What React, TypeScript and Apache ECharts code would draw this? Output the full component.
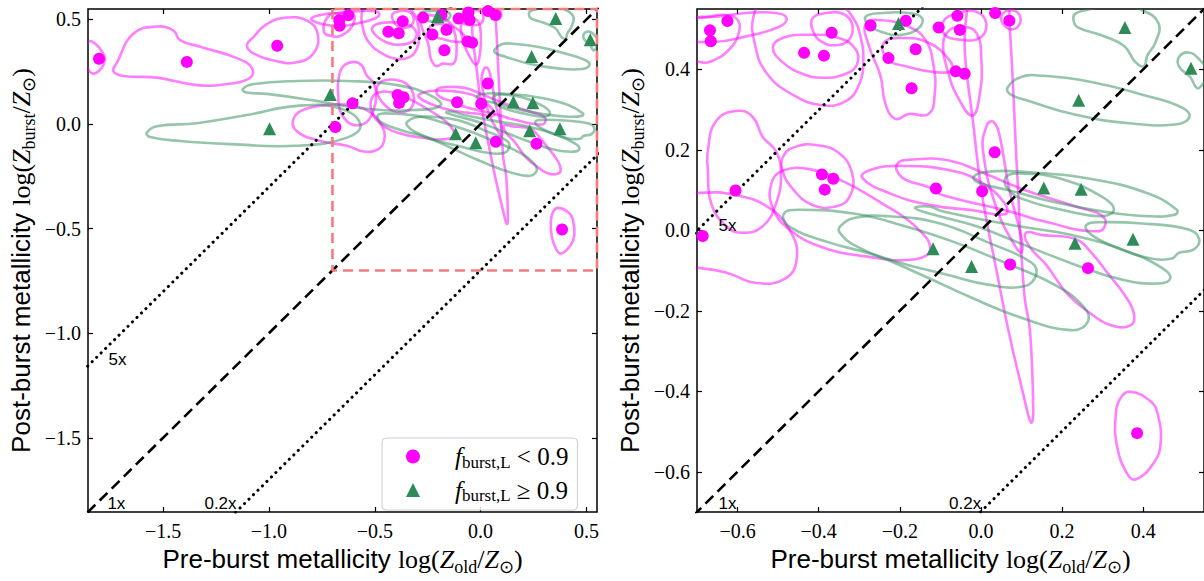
import React, { useEffect, useRef } from "react";
import * as echarts from "echarts";

// ---------- data ----------
// f_burst,L < 0.9 (magenta circles)
const lowX = [-1.803, -1.388, -0.961, -0.625, -0.668, -0.666, -0.368, -0.436, -0.387, -0.272, -0.185, -0.228, -0.161, -0.171, -0.104, -0.058, -0.052, 0.035, 0.07, -0.062, -0.04, 0.034, -0.392, -0.364, -0.385, -0.605, -0.111, 0.003, -0.686, 0.072, 0.264, 0.385];
const lowY = [0.312, 0.297, 0.374, 0.52, 0.497, 0.47, 0.491, 0.441, 0.434, 0.509, 0.521, 0.428, 0.45, 0.353, 0.504, 0.533, 0.498, 0.54, 0.521, 0.395, 0.389, 0.194, 0.139, 0.128, 0.101, 0.099, 0.104, 0.097, -0.014, -0.085, -0.094, -0.504];
// f_burst,L >= 0.9 (green triangles)
const highX = [-0.997, -0.71, -0.203, 0.355, 0.518, 0.241, 0.155, 0.247, -0.118, -0.023, 0.232, 0.375];
const highY = [-0.023, 0.141, 0.514, 0.504, 0.403, 0.323, 0.105, 0.102, -0.046, -0.09, -0.032, -0.022];

// contours (data coordinates), only drawn in the full panel
const cA = [[-1.854, 0.393], [-1.822, 0.385], [-1.783, 0.338], [-1.775, 0.307], [-1.79, 0.269], [-1.822, 0.242], [-1.849, 0.253], [-1.87, 0.315]];
const cB = [[-1.735, 0.253], [-1.719, 0.292], [-1.641, 0.432], [-1.53, 0.466], [-1.451, 0.447], [-1.42, 0.401], [-1.325, 0.37], [-1.152, 0.315], [-1.081, 0.269], [-1.088, 0.222], [-1.199, 0.191], [-1.341, 0.186], [-1.53, 0.222], [-1.688, 0.23]];
const cC = [[-1.073, 0.416], [-1.01, 0.478], [-0.915, 0.509], [-0.82, 0.494], [-0.77, 0.432], [-0.789, 0.338], [-0.868, 0.295], [-0.962, 0.3], [-1.073, 0.338], [-1.104, 0.377]];
const cD = [[-1.577, -0.042], [-1.53, -0.011], [-1.341, 0.004], [-1.104, 0.043], [-0.868, 0.087], [-0.663, 0.074], [-0.568, -0.003], [-0.631, -0.065], [-0.868, -0.104], [-1.183, -0.096], [-1.42, -0.081], [-1.562, -0.062]];
const cE = [[-1.123, 0.168], [-1.073, 0.191], [-0.868, 0.206], [-0.631, 0.206], [-0.394, 0.186], [-0.237, 0.137], [-0.189, 0.09], [-0.315, 0.067], [-0.552, 0.074], [-0.789, 0.113], [-1.01, 0.144], [-1.112, 0.152]];

// contours drawn in both panels
const m1a = [[-0.8, 0.505], [-0.72, 0.528], [-0.652, 0.531], [-0.579, 0.54], [-0.505, 0.54], [-0.479, 0.527], [-0.497, 0.506], [-0.579, 0.482], [-0.66, 0.468], [-0.75, 0.478]];
const m1b = [[-0.74, 0.44], [-0.69, 0.418], [-0.66, 0.422], [-0.62, 0.45], [-0.597, 0.49], [-0.599, 0.522], [-0.628, 0.535], [-0.669, 0.531], [-0.72, 0.515]];
const m2a = [[-0.561, 0.531], [-0.558, 0.466], [-0.53, 0.393], [-0.464, 0.337], [-0.391, 0.311], [-0.333, 0.321], [-0.301, 0.361], [-0.29, 0.418], [-0.297, 0.482], [-0.317, 0.531], [-0.35, 0.56], [-0.456, 0.571], [-0.538, 0.563]];
const m2b = [[-0.513, 0.454], [-0.489, 0.478], [-0.423, 0.486], [-0.35, 0.478], [-0.309, 0.45], [-0.305, 0.414], [-0.333, 0.389], [-0.391, 0.379], [-0.44, 0.389], [-0.489, 0.418]];
const m2c = [[-0.415, 0.527], [-0.382, 0.54], [-0.338, 0.537], [-0.317, 0.51], [-0.325, 0.474], [-0.358, 0.46], [-0.395, 0.47], [-0.415, 0.498]];
const m3a = [[-0.284, 0.514], [-0.276, 0.458], [-0.248, 0.385], [-0.235, 0.313], [-0.211, 0.277], [-0.178, 0.289], [-0.129, 0.289], [-0.114, 0.337], [-0.117, 0.41], [-0.137, 0.474], [-0.178, 0.506], [-0.244, 0.522]];
const m3b = [[-0.239, 0.466], [-0.194, 0.478], [-0.129, 0.466], [-0.08, 0.426], [-0.072, 0.398], [-0.113, 0.393], [-0.178, 0.406], [-0.231, 0.426]];
const m5a = [[-0.093, 0.466], [-0.081, 0.393], [-0.056, 0.329], [-0.021, 0.285], [-0.003, 0.337], [0.001, 0.426], [-0.011, 0.49], [-0.044, 0.506], [-0.077, 0.498]];
const m5b = [[-0.028, 0.58], [-0.015, 0.23], [0.05, -0.16], [0.112, -0.44], [0.124, -0.478], [0.129, -0.45], [0.121, -0.25], [0.107, -0.16], [0.09, 0.13], [0.07, 0.52], [0.06, 0.58]];
const m5c = [[0.015, 0.262], [0.03, 0.27], [0.045, 0.24], [0.07, 0.1], [0.1, -0.02], [0.1, -0.055], [0.085, -0.04], [0.04, 0.05], [0.005, 0.2]];
const m6 = [[-0.599, 0.297], [-0.652, 0.273], [-0.673, 0.2], [-0.673, 0.148], [-0.665, 0.067], [-0.628, 0.01], [-0.587, -0.006], [-0.538, 0.01], [-0.505, 0.067], [-0.493, 0.139], [-0.505, 0.196], [-0.538, 0.232], [-0.562, 0.281]];
const m7 = [[-0.883, 0.028], [-0.82, 0.074], [-0.694, 0.093], [-0.603, 0.087], [-0.521, 0.055], [-0.468, -0.006], [-0.454, -0.07], [-0.481, -0.119], [-0.554, -0.131], [-0.631, -0.104], [-0.757, -0.081], [-0.868, -0.034]];
const m8 = [[-0.485, 0.188], [-0.456, 0.208], [-0.407, 0.212], [-0.35, 0.192], [-0.317, 0.139], [-0.324, 0.083], [-0.358, 0.059], [-0.415, 0.063], [-0.464, 0.103], [-0.49, 0.152]];
const m9 = [[-0.517, 0.115], [-0.489, 0.148], [-0.423, 0.152], [-0.342, 0.123], [-0.244, 0.067], [-0.162, 0.01], [-0.125, -0.046], [-0.162, -0.072], [-0.276, -0.066], [-0.391, -0.042], [-0.472, 0.002], [-0.513, 0.055]];
const m10a = [[-0.293, 0.131], [-0.268, 0.152], [-0.194, 0.16], [-0.08, 0.15], [0.0, 0.12], [0.06, 0.065], [0.06, 0.04], [-0.02, 0.05], [-0.12, 0.062], [-0.22, 0.09]];
const m10b = [[-0.207, 0.164], [-0.17, 0.176], [-0.076, 0.173], [0.005, 0.143], [0.111, 0.099], [0.234, 0.059], [0.304, 0.031], [0.291, -0.002], [0.152, 0.023], [0.071, 0.047], [-0.093, 0.087], [-0.129, 0.107], [-0.194, 0.131]];
const m12 = [[0.111, -0.006], [0.152, -0.012], [0.234, -0.022], [0.271, -0.054], [0.316, -0.111], [0.353, -0.159], [0.377, -0.207], [0.369, -0.236], [0.32, -0.236], [0.271, -0.207], [0.214, -0.159], [0.161, -0.086], [0.118, -0.038]];
const m13 = [[0.369, -0.401], [0.418, -0.425], [0.436, -0.457], [0.443, -0.53], [0.426, -0.578], [0.381, -0.619], [0.359, -0.602], [0.336, -0.538], [0.332, -0.465], [0.344, -0.417]];
const m14 = [[-0.093, 0.518], [-0.06, 0.539], [-0.011, 0.543], [0.013, 0.514], [-0.003, 0.478], [-0.052, 0.474], [-0.089, 0.486]];
const m15 = [[0.05, 0.531], [0.071, 0.547], [0.095, 0.535], [0.091, 0.506], [0.066, 0.502]];

const g1 = [[-0.284, 0.531], [-0.244, 0.54], [-0.178, 0.54], [-0.145, 0.527], [-0.154, 0.502], [-0.194, 0.486], [-0.235, 0.49], [-0.276, 0.51]];
const g2 = [[0.234, 0.539], [0.275, 0.551], [0.33, 0.565], [0.398, 0.547], [0.438, 0.514], [0.43, 0.466], [0.41, 0.434], [0.402, 0.408], [0.381, 0.418], [0.353, 0.458], [0.299, 0.484], [0.238, 0.505], [0.228, 0.524]];
const g3 = [[0.488, 0.43], [0.512, 0.442], [0.537, 0.426], [0.56, 0.39], [0.545, 0.361], [0.533, 0.353], [0.516, 0.381], [0.489, 0.406]];
const g4 = [[0.066, 0.355], [0.099, 0.381], [0.152, 0.384], [0.275, 0.368], [0.398, 0.337], [0.496, 0.305], [0.514, 0.281], [0.479, 0.263], [0.365, 0.266], [0.234, 0.287], [0.12, 0.321], [0.071, 0.339]];
const g5a = [[-0.018, 0.133], [0.013, 0.145], [0.111, 0.145], [0.275, 0.127], [0.414, 0.091], [0.483, 0.051], [0.479, 0.039], [0.414, 0.035], [0.3, 0.047], [0.177, 0.071], [0.071, 0.099], [-0.007, 0.119]];
const g5b = [[0.062, 0.133], [0.103, 0.141], [0.201, 0.127], [0.299, 0.083], [0.328, 0.052], [0.299, 0.035], [0.218, 0.047], [0.111, 0.075], [0.066, 0.103]];
const g6 = [[0.259, 0.012], [0.291, 0.02], [0.398, 0.017], [0.512, 0.002], [0.538, -0.022], [0.524, -0.048], [0.488, -0.056], [0.471, -0.07], [0.414, -0.069], [0.332, -0.042], [0.271, -0.01]];
const g7 = [[-0.162, 0.055], [-0.129, 0.059], [-0.093, 0.047], [0.071, 0.014], [0.234, -0.014], [0.365, -0.054], [0.447, -0.094], [0.467, -0.119], [0.438, -0.132], [0.349, -0.123], [0.234, -0.086], [0.111, -0.038], [-0.011, 0.01], [-0.12, 0.04]];
const g8 = [[-0.347, 0.01], [-0.31, 0.031], [-0.228, 0.035], [-0.105, 0.018], [0.017, -0.03], [0.124, -0.08], [0.136, -0.111], [0.107, -0.139], [0.017, -0.135], [-0.081, -0.111], [-0.212, -0.077], [-0.31, -0.038], [-0.347, -0.007]];
const g9 = [[-0.486, 0.041], [-0.449, 0.051], [-0.31, 0.041], [-0.187, 0.01], [-0.064, -0.03], [0.058, -0.08], [0.181, -0.135], [0.254, -0.191], [0.263, -0.228], [0.222, -0.248], [0.099, -0.217], [-0.024, -0.167], [-0.146, -0.111], [-0.261, -0.062], [-0.375, -0.03], [-0.473, 0.01]];

const fullOnlyMagenta = [cA, cB, cC];
const fullOnlyGreen = [cD, cE];
const magentaContours = [m1a, m1b, m2a, m2b, m2c, m3a, m3b, m5a, m5b, m5c, m6, m7, m8, m9, m10a, m10b, m12, m13, m14, m15];
const greenContours = [g1, g2, g3, g4, g5a, g5b, g6, g7, g8, g9];

// axes
const fullRange = [-1.855, 0.55];
const zoomRange = [-0.7, 0.55];
const fullTicks = [-1.5, -1.0, -0.5, 0.0, 0.5];
const zoomTicks = [-0.6, -0.4, -0.2, 0.0, 0.2, 0.4];

// guide lines: Z_burst = factor * Z_old
const ratioNames = ["5x", "1x", "0.2x"];
const ratioFactors = [5, 1, 0.2];
// label anchors (data coords) for each panel
const fullLabelX = [-1.716, -1.721, -1.229];
const fullLabelY = [-1.127, -1.813, -1.813];
const zoomLabelX = [-0.625, -0.625, -0.039];
const zoomLabelY = [0.012, -0.678, -0.678];

// zoom box drawn on the full panel
const boxX = [-0.7, -0.7, 0.55, 0.55, -0.7];
const boxY = [0.55, -0.7, -0.7, 0.55, 0.55];

// ---------- styles ----------
const MAG = "#ff00ff";
const MAG_C = "rgba(255,0,255,0.5)";
const GRN = "#2e8b57";
const GRN_C = "rgba(46,139,87,0.5)";
const SERIF = "Liberation Serif";
const SANS = "Liberation Sans";

const titleRich = {
  s: { fontFamily: SANS, fontSize: 26, color: "#000", lineHeight: 34 },
  m: { fontFamily: SERIF, fontSize: 26, color: "#000", lineHeight: 34 },
  i: { fontFamily: SERIF, fontStyle: "italic", fontSize: 26, color: "#000", lineHeight: 34 },
  b: { fontFamily: SERIF, fontSize: 18, color: "#000", lineHeight: 18, verticalAlign: "bottom" },
};
const xTitle = "{s|Pre-burst metallicity }{m|log(}{i|Z}{b|old}{m|/}{i|Z}{b|\u2299}{m|)}";
const yTitle = "{s|Post-burst metallicity }{m|log(}{i|Z}{b|burst}{m|/}{i|Z}{b|\u2299}{m|)}";

const fmt = (v: number) => (v < 0 ? "\u2212" : "") + Math.abs(v).toFixed(1);

function makeAxes(gi: number, range: number[], ticks: number[], isX: boolean) {
  const tick = { show: true, inside: true, length: 5, customValues: ticks, lineStyle: { color: "#000", width: 1.2 } };
  const main: any = {
    type: "value",
    gridIndex: gi,
    min: range[0],
    max: range[1],
    position: isX ? "bottom" : "left",
    axisLine: { show: false, onZero: false },
    splitLine: { show: false },
    axisTick: tick,
    axisLabel: {
      customValues: ticks,
      formatter: fmt,
      fontFamily: SERIF,
      fontSize: 20,
      color: "#000",
      margin: isX ? 9 : 7,
    },
    name: isX ? xTitle : yTitle,
    nameLocation: "middle",
    nameGap: isX ? 30 : 50,
    nameRotate: isX ? 0 : 90,
    nameTextStyle: { rich: titleRich },
  };
  const mirror: any = {
    type: "value",
    gridIndex: gi,
    min: range[0],
    max: range[1],
    position: isX ? "top" : "right",
    axisLine: { show: false, onZero: false },
    splitLine: { show: false },
    axisTick: tick,
    axisLabel: { show: false },
  };
  return [main, mirror];
}

function contourSeries(list: number[][][], color: string, ai: number) {
  return {
    type: "custom",
    xAxisIndex: ai,
    yAxisIndex: ai,
    clip: true,
    silent: true,
    z: 2,
    data: list.map((c, i) => [c[0][0], c[0][1], i]),
    encode: { x: 0, y: 1 },
    renderItem: (params: any, api: any) => {
      const c = list[params.dataIndex];
      const pts = c.map((p) => api.coord(p));
      return {
        type: "polygon",
        shape: { points: pts, smooth: 0.45 },
        style: { fill: "none", stroke: color, lineWidth: 2.6 },
      };
    },
  };
}

function labelSeries(xs: number[], ys: number[], ai: number) {
  return {
    type: "custom",
    xAxisIndex: ai,
    yAxisIndex: ai,
    silent: true,
    z: 5,
    data: xs.map((x, i) => [x, ys[i], i]),
    encode: { x: 0, y: 1 },
    renderItem: (params: any, api: any) => {
      const p = api.coord([api.value(0), api.value(1)]);
      return {
        type: "text",
        x: p[0],
        y: p[1],
        style: {
          text: ratioNames[params.dataIndex],
          fontFamily: SANS,
          fontSize: 17,
          fill: "#000",
          align: "center",
          verticalAlign: "middle",
        },
      };
    },
  };
}

function panelSeries(gi: number, range: number[], full: boolean) {
  const ai = gi * 2;
  const inRange = (x: number, y: number) => x >= range[0] && x <= range[1] && y >= range[0] && y <= range[1];
  const low = lowX.map((x, i) => [x, lowY[i]]).filter((p) => full || inRange(p[0], p[1]));
  const high = highX.map((x, i) => [x, highY[i]]).filter((p) => full || inRange(p[0], p[1]));
  const series: any[] = [];
  series.push(contourSeries(full ? fullOnlyMagenta.concat(magentaContours) : magentaContours, MAG_C, ai));
  series.push(contourSeries(full ? fullOnlyGreen.concat(greenContours) : greenContours, GRN_C, ai));
  ratioFactors.forEach((f) => {
    const off = Math.log10(f);
    series.push({
      type: "line",
      xAxisIndex: ai,
      yAxisIndex: ai,
      silent: true,
      symbol: "none",
      z: 3,
      data: [
        [-3, -3 + off],
        [2, 2 + off],
      ],
      lineStyle:
        f === 1
          ? { color: "#000", width: 2.6, type: [11, 6] }
          : { color: "#000", width: 3, type: [0.1, 6.2], cap: "round" },
    });
  });
  if (full) {
    series.push({
      type: "line",
      xAxisIndex: ai,
      yAxisIndex: ai,
      silent: true,
      symbol: "none",
      clip: false,
      z: 3,
      data: boxX.map((x, i) => [x, boxY[i]]),
      lineStyle: { color: "#f47c7c", width: 2.6, type: [10, 6] },
    });
  }
  series.push(labelSeries(full ? fullLabelX : zoomLabelX, full ? fullLabelY : zoomLabelY, ai));
  series.push({
    type: "scatter",
    name: "low",
    xAxisIndex: ai,
    yAxisIndex: ai,
    symbol: "circle",
    symbolSize: 12,
    itemStyle: { color: MAG, opacity: 1 },
    z: 6,
    data: low,
  });
  series.push({
    type: "scatter",
    name: "high",
    xAxisIndex: ai,
    yAxisIndex: ai,
    symbol: "triangle",
    symbolSize: 13,
    itemStyle: { color: GRN, opacity: 1 },
    z: 6,
    data: high,
  });
  return series;
}

export default function App() {
  const ref = useRef<HTMLDivElement>(null);
  useEffect(() => {
    if (!ref.current) return;
    const chart = echarts.init(ref.current, undefined, { renderer: "svg" });
    const [fx, fx2] = makeAxes(0, fullRange, fullTicks, true);
    const [zx, zx2] = makeAxes(1, zoomRange, zoomTicks, true);
    const [fy, fy2] = makeAxes(0, fullRange, fullTicks, false);
    const [zy, zy2] = makeAxes(1, zoomRange, zoomTicks, false);
    const legendRich = {
      sp: { width: 30 },
      f: { fontFamily: SERIF, fontStyle: "italic", fontSize: 25, lineHeight: 28, color: "#000" },
      u: { fontFamily: SERIF, fontSize: 17, lineHeight: 16, verticalAlign: "bottom", color: "#000" },
      t: { fontFamily: SERIF, fontSize: 25, lineHeight: 28, color: "#000" },
    };
    chart.setOption({
      animation: false,
      backgroundColor: "#fff",
      grid: [
        { left: 88, top: 9, width: 509, height: 515, show: true, borderColor: "#000", borderWidth: 1.5, backgroundColor: "transparent" },
        { left: 697, top: 9, width: 509, height: 515, show: true, borderColor: "#000", borderWidth: 1.5, backgroundColor: "transparent" },
      ],
      xAxis: [fx, fx2, zx, zx2],
      yAxis: [fy, fy2, zy, zy2],
      legend: {
        left: 382,
        top: 438,
        orient: "vertical",
        itemWidth: 14,
        itemHeight: 14,
        itemGap: 7,
        padding: [6, 9, 6, 24],
        borderColor: "#cccccc",
        borderWidth: 1,
        borderRadius: 4,
        backgroundColor: "rgba(255,255,255,0.85)",
        data: [
          { name: "low", icon: "circle" },
          { name: "high", icon: "triangle" },
        ],
        formatter: (n: string) =>
          n === "low" ? "{sp|}{f|f}{u|burst,L}{t| < 0.9}" : "{sp|}{f|f}{u|burst,L}{t| \u2265 0.9}",
        textStyle: { rich: legendRich },
      },
      series: [...panelSeries(0, fullRange, true), ...panelSeries(1, zoomRange, false)],
    });
    return () => chart.dispose();
  }, []);
  return <div ref={ref} style={{ position: "absolute", left: 0, top: 0, width: 1204, height: 581 }} />;
}
